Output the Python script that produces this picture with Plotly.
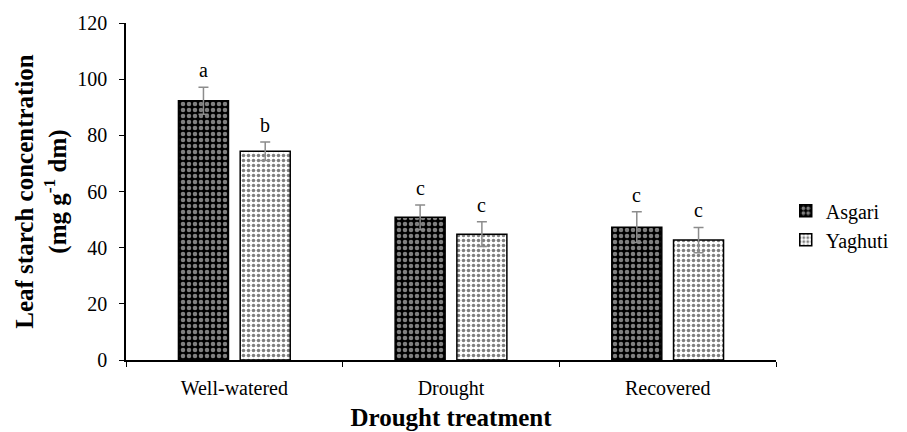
import plotly.graph_objects as go

treatments = ["Well-watered", "Drought", "Recovered"]
asgari = [92.3, 50.8, 47.3]
asgari_err = [4.8, 4.4, 5.5]
yaghuti = [74.3, 44.8, 42.7]
yaghuti_err = [3.3, 4.4, 4.5]
asgari_letters = ["a", "c", "c"]
yaghuti_letters = ["b", "c", "c"]
y_ticks = [0, 20, 40, 60, 80, 100, 120]

FONT = "Liberation Serif"
ERR = dict(type="data", color="#8c8c8c", thickness=1.5, width=5)

fig = go.Figure()
fig.add_trace(go.Bar(
    name="Asgari", x=treatments, y=asgari,
    error_y=dict(ERR, array=asgari_err),
    marker=dict(color="black", line=dict(color="black", width=1.5),
                pattern=dict(shape=".", fgcolor="white", bgcolor="black",
                             size=6, solidity=0.45)),
))
fig.add_trace(go.Bar(
    name="Yaghuti", x=treatments, y=yaghuti,
    error_y=dict(ERR, array=yaghuti_err),
    marker=dict(color="white", line=dict(color="black", width=1.5),
                pattern=dict(shape=".", fgcolor="black", bgcolor="white",
                             size=5, solidity=0.4)),
))

# significance letters above the error bars
for i, t in enumerate(treatments):
    for letters, vals, errs, off in ((asgari_letters, asgari, asgari_err, -0.143),
                                     (yaghuti_letters, yaghuti, yaghuti_err, 0.143)):
        fig.add_annotation(x=i + off, y=vals[i] + errs[i], text=letters[i],
                           showarrow=False, yanchor="bottom", yshift=4,
                           xref="x", yref="y",
                           font=dict(family=FONT, size=20, color="black"))

fig.update_layout(
    width=907, height=432,
    margin=dict(l=126, r=131, t=23, b=72),
    paper_bgcolor="white", plot_bgcolor="white",
    barmode="group", bargap=0.43, bargroupgap=0.19,
    font=dict(family=FONT, size=20, color="black"),
    legend=dict(x=1.015, y=0.40, xanchor="left", yanchor="middle",
                font=dict(family=FONT, size=20, color="black"),
                itemwidth=30, tracegroupgap=0),
    xaxis=dict(
        showline=True, linecolor="black", linewidth=1.5, automargin=False,
        ticks="outside", tickson="boundaries", ticklen=5, tickcolor="black",
        showgrid=False, range=[-0.5, 2.5], ticklabelstandoff=9,
        tickfont=dict(family=FONT, size=20),
        title=dict(text="<b>Drought treatment</b>", font=dict(family=FONT, size=25), standoff=10),
    ),
    yaxis=dict(
        range=[0, 120], tickvals=y_ticks, showline=True, linecolor="black", linewidth=1.5,
        automargin=False,
        ticks="outside", ticklen=5, tickcolor="black", showgrid=False, zeroline=False,
        tickfont=dict(family=FONT, size=20), ticklabelstandoff=8,
        title=dict(text="<b>Leaf starch concentration<br>(mg g<sup>-1</sup> dm)</b>",
                   font=dict(family=FONT, size=25), standoff=4),
    ),
)

fig.write_html("out.html")
